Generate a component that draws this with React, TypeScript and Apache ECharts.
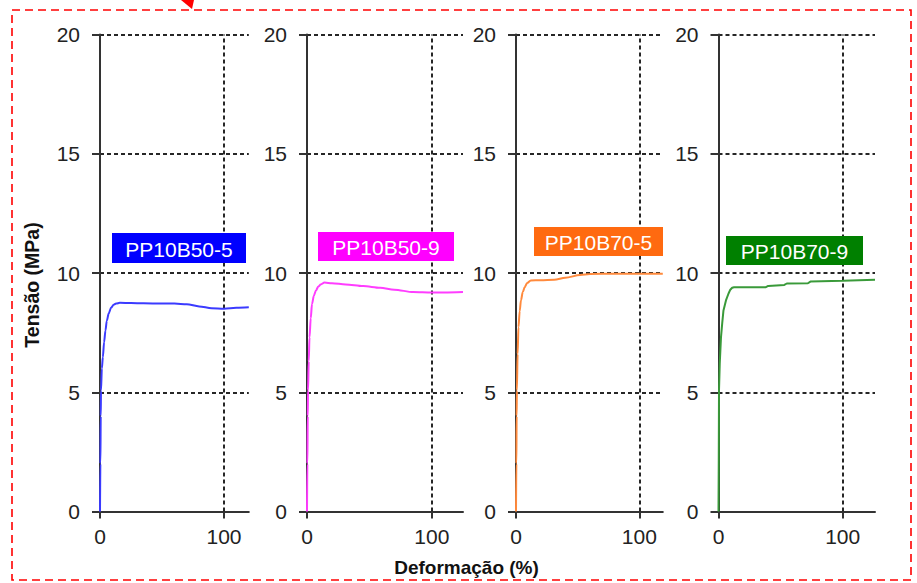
import React, { useEffect, useRef } from "react";
import * as echarts from "echarts";

// ---- data ----
const panelNames = ["PP10B50-5", "PP10B50-9", "PP10B70-5", "PP10B70-9"];
const panelXMax = [120, 125, 119, 126];
const yTicks = [0, 5, 10, 15, 20];
const xTicks = [0, 100];

const strainA = [0, 0.3, 0.6, 0.8, 1.5, 2.3, 3.3, 4.4, 5.5, 7, 9, 11, 13, 16, 25, 35, 50, 60, 70, 80, 90, 100, 110, 120];
const stressA = [0, 2, 4, 5.07, 6, 6.47, 7.1, 7.59, 8.0, 8.3, 8.55, 8.67, 8.72, 8.75, 8.74, 8.73, 8.72, 8.72, 8.69, 8.6, 8.52, 8.5, 8.54, 8.56];

const strainB = [0, 0.3, 0.6, 0.8, 1.4, 2, 3, 4, 5.5, 7.2, 9, 11, 14, 20, 31, 45, 58.6, 70, 85, 100, 110, 125];
const stressB = [0, 2, 4, 5.07, 6.3, 7.3, 8.1, 8.7, 9.05, 9.27, 9.43, 9.52, 9.6, 9.57, 9.52, 9.45, 9.38, 9.3, 9.2, 9.18, 9.18, 9.2];

const strainC = [0, 0.3, 0.5, 0.7, 1.3, 2, 3, 4, 5.5, 7, 9, 12, 20, 31, 40, 52, 60, 80, 100, 119];
const stressC = [0, 2, 4, 5.07, 6.6, 7.73, 8.4, 8.85, 9.2, 9.4, 9.58, 9.69, 9.7, 9.72, 9.8, 9.92, 9.96, 9.97, 9.97, 9.97];

const strainD = [0, 0.2, 0.4, 1, 2, 3, 4, 6, 8, 9.5, 11, 12.5, 37.8, 40, 53, 55, 72, 74, 100, 126];
const stressD = [0, 2, 5.07, 6.2, 7.3, 7.9, 8.43, 8.85, 9.13, 9.3, 9.38, 9.4, 9.4, 9.46, 9.5, 9.56, 9.57, 9.64, 9.67, 9.72];

const strains = [strainA, strainB, strainC, strainD];
const stresses = [stressA, stressB, stressC, stressD];

// ---- styles ----
const lineColors = ["#3b3bff", "#ff3dff", "#ff8a3d", "#3a9a3a"];
const boxColors = ["#0000ff", "#ff00ff", "#ff6a10", "#008000"];
const gridLeft = [100, 307, 516, 718.5];
const gridWidth = [148.8, 156, 146.8, 156.5];
const boxes = [
  [112, 233, 134, 30],
  [318, 232, 136, 29],
  [534, 227, 129, 29],
  [726, 236, 137, 29],
];
const FONT = "'Liberation Sans', Arial, sans-serif";
const DARK = "#262626";
const DASH = [4, 3];

export default function App() {
  const ref = useRef<HTMLDivElement>(null);

  useEffect(() => {
    if (!ref.current) return;
    const chart = echarts.init(ref.current, null, { renderer: "svg" });

    const grids = panelNames.map((_, i) => ({
      left: gridLeft[i],
      top: 34.5,
      width: gridWidth[i],
      height: 477,
      containLabel: false,
    }));

    const axisLine = { show: true, lineStyle: { color: "#333", width: 2 } };

    const xAxes = panelNames.map((_, i) => ({
      type: "value",
      gridIndex: i,
      min: 0,
      max: panelXMax[i],
      interval: 100,
      axisLine,
      axisTick: { show: true, inside: false, length: 7, lineStyle: { color: "#333", width: 2 }, customValues: xTicks },
      axisLabel: {
        show: true,
        margin: 14,
        fontSize: 21,
        color: "#222",
        fontFamily: FONT,
        customValues: xTicks,
        formatter: (v: number) => (xTicks.indexOf(v) >= 0 ? String(v) : ""),
      },
      splitLine: { show: false },
    }));

    const yAxes = panelNames.map((_, i) => ({
      type: "value",
      gridIndex: i,
      min: yTicks[0],
      max: yTicks[yTicks.length - 1],
      interval: 5,
      axisLine,
      axisTick: { show: true, inside: false, length: 8, lineStyle: { color: "#333", width: 2 } },
      axisLabel: { show: true, margin: 20, fontSize: 21, color: "#222", fontFamily: FONT },
      splitLine: {
        show: true,
        showMinLine: false,
        lineStyle: { color: DARK, width: 2, type: DASH },
      },
    }));

    const series = panelNames.map((name, i) => ({
      type: "line",
      name,
      xAxisIndex: i,
      yAxisIndex: i,
      data: strains[i].map((x, k) => [x, stresses[i][k]]),
      showSymbol: false,
      smooth: i === 3 ? false : 0.3,
      smoothMonotone: "x",
      lineStyle: { color: lineColors[i], width: 2 },
      z: 5,
      markLine: {
        silent: true,
        symbol: "none",
        label: { show: false },
        lineStyle: { color: DARK, width: 2, type: DASH },
        data: [{ xAxis: xTicks[1] }],
        z: 3,
      },
    }));

    const labelGraphics = panelNames.flatMap((name, i) => {
      const [x, y, w, h] = boxes[i];
      return [
        { type: "rect", left: x, top: y, shape: { width: w, height: h }, style: { fill: boxColors[i] }, z: 20 },
        {
          type: "text",
          x: x + w / 2,
          y: y + h / 2 + 1,
          style: { text: name, fill: "#ffffff", font: `21px ${FONT}`, align: "center", verticalAlign: "middle" },
          z: 21,
        },
      ];
    });

    chart.setOption({
      animation: false,
      backgroundColor: "#ffffff",
      grid: grids,
      xAxis: xAxes,
      yAxis: yAxes,
      series,
      graphic: [
        {
          type: "rect",
          shape: { x: 12, y: 10, width: 899, height: 570 },
          style: { fill: "none", stroke: "#ff0000", lineWidth: 1.6, lineDash: [8, 5] },
          z: 30,
        },
        {
          type: "polygon",
          shape: { points: [[181, 0], [194, 0], [192, 9]] },
          style: { fill: "#ff0000" },
          z: 30,
        },
        {
          type: "text",
          x: 466.5,
          y: 567,
          style: { text: "Deformação (%)", fill: "#111", font: `bold 19px ${FONT}`, align: "center", verticalAlign: "middle" },
          z: 20,
        },
        {
          type: "text",
          x: 31.5,
          y: 285,
          rotation: Math.PI / 2,
          style: { text: "Tensão (MPa)", fill: "#111", font: `bold 19.5px ${FONT}`, align: "center", verticalAlign: "middle" },
          z: 20,
        },
        ...labelGraphics,
      ],
    });

    return () => chart.dispose();
  }, []);

  return (
    <div
      ref={ref}
      style={{ position: "fixed", left: 0, top: 0, width: 917, height: 583, background: "#fff" }}
    />
  );
}
